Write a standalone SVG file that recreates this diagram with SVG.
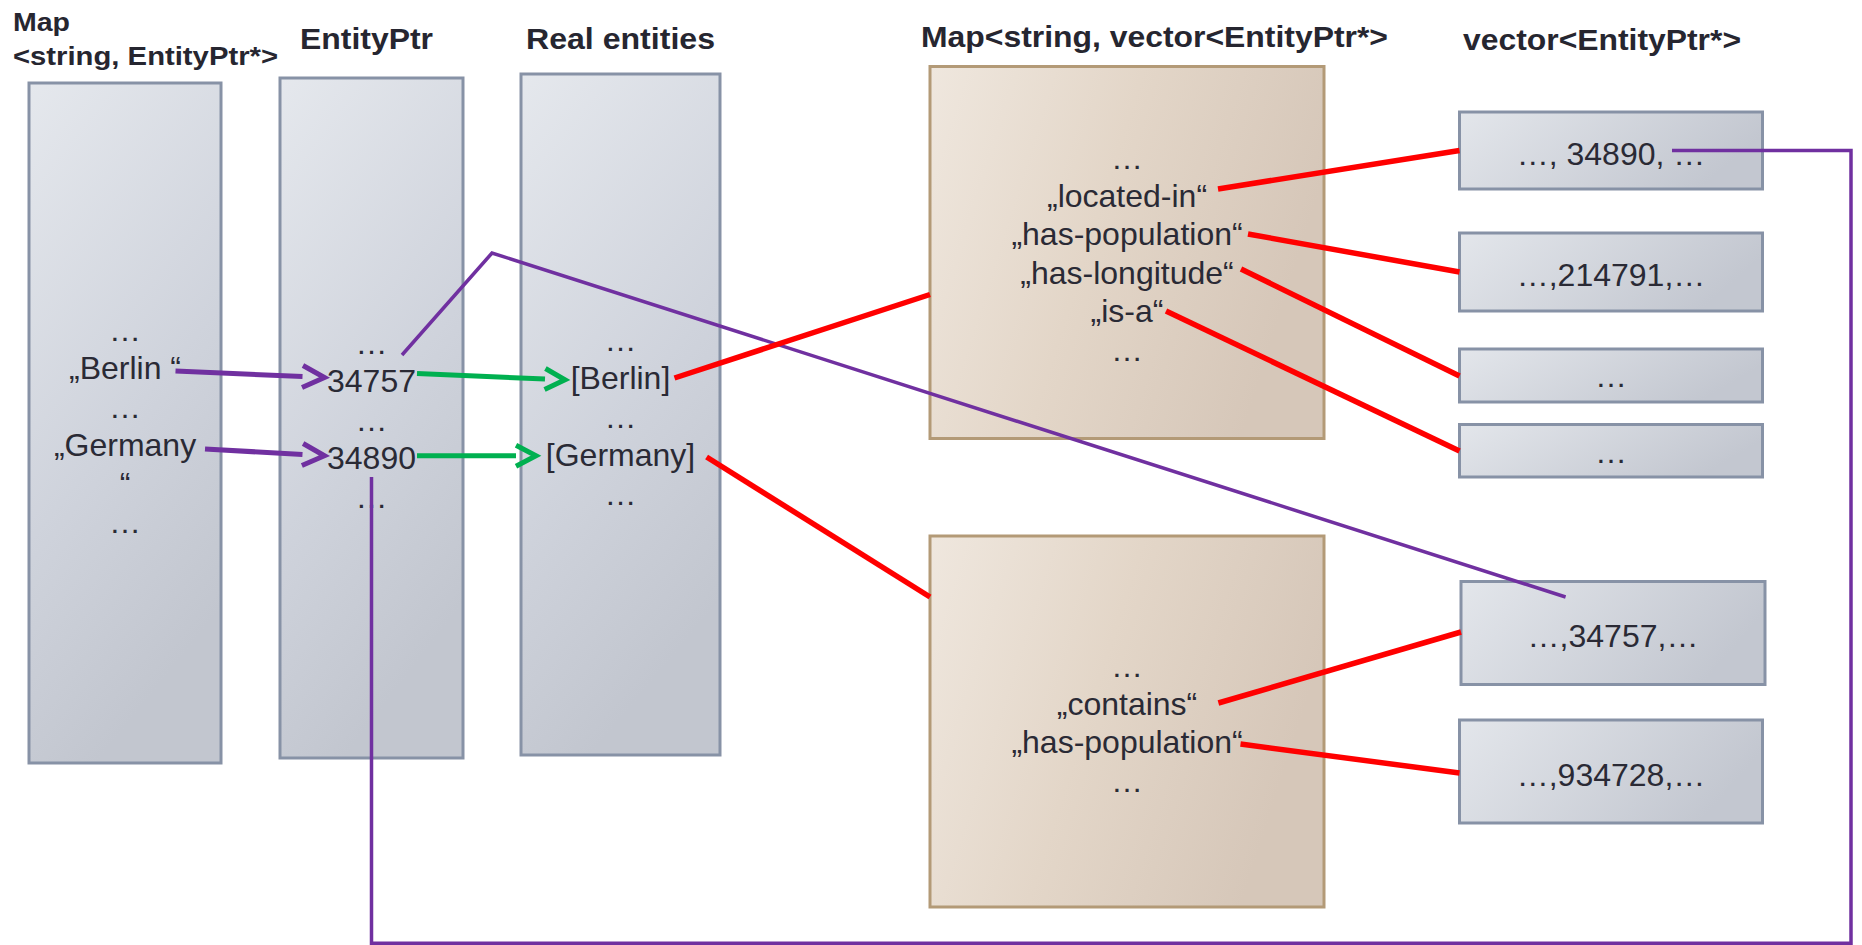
<svg xmlns="http://www.w3.org/2000/svg" width="1862" height="945" viewBox="0 0 1862 945">
<defs>
<linearGradient id="gCol" x1="0" y1="0" x2="0.35" y2="1">
<stop offset="0" stop-color="#e5e8ed"/>
<stop offset="0.6" stop-color="#cfd3dc"/>
<stop offset="1" stop-color="#c2c6cf"/>
</linearGradient>
<linearGradient id="gVec" x1="0" y1="0" x2="1" y2="0.3">
<stop offset="0" stop-color="#e3e6eb"/>
<stop offset="1" stop-color="#c3c7d0"/>
</linearGradient>
<linearGradient id="gTan" x1="0" y1="0" x2="1" y2="0.3">
<stop offset="0" stop-color="#efe7de"/>
<stop offset="0.5" stop-color="#e3d6c8"/>
<stop offset="1" stop-color="#d6c7b9"/>
</linearGradient>
<marker id="aPurple" markerUnits="userSpaceOnUse" viewBox="-4 -16 32 32" markerWidth="32" markerHeight="32" refX="0" refY="0" orient="auto">
<path d="M0,-11 L22,0 L0,11" fill="none" stroke="#7030a0" stroke-width="5"/>
</marker>
<marker id="aGreen" markerUnits="userSpaceOnUse" viewBox="-4 -16 32 32" markerWidth="32" markerHeight="32" refX="0" refY="0" orient="auto">
<path d="M0,-10.5 L20,0 L0,10.5" fill="none" stroke="#00b050" stroke-width="5"/>
</marker>
</defs>
<style>
.col{fill:url(#gCol);stroke:#8792a6;stroke-width:3}
.vec{fill:url(#gVec);stroke:#8792a6;stroke-width:3}
.tan{fill:url(#gTan);stroke:#b39a77;stroke-width:3}
.t{font-family:"Liberation Sans",Arial,sans-serif;font-size:32px;fill:#2a2a35;text-anchor:middle}
.h{font-family:"Liberation Sans",Arial,sans-serif;font-weight:bold;font-size:29px;fill:#262630}
.hs{font-size:26px}
.red{stroke:#ff0000;stroke-width:5.5;fill:none}
.pur{stroke:#7030a0;stroke-width:3.5;fill:none}
.purA{stroke:#7030a0;stroke-width:5;fill:none}
.grnA{stroke:#00b050;stroke-width:5;fill:none}
</style>
<rect width="1862" height="945" fill="#ffffff"/>

<g id="titles">
<text class="h hs" x="13" y="31" textLength="57" lengthAdjust="spacingAndGlyphs">Map</text>
<text class="h hs" x="13" y="65" textLength="265" lengthAdjust="spacingAndGlyphs">&lt;string, EntityPtr*&gt;</text>
<text class="h" x="300" y="49" textLength="133" lengthAdjust="spacingAndGlyphs">EntityPtr</text>
<text class="h" x="526" y="49" textLength="189" lengthAdjust="spacingAndGlyphs">Real entities</text>
<text class="h" x="921" y="47" textLength="467" lengthAdjust="spacingAndGlyphs">Map&lt;string, vector&lt;EntityPtr*&gt;</text>
<text class="h" x="1463" y="50" textLength="278" lengthAdjust="spacingAndGlyphs">vector&lt;EntityPtr*&gt;</text>
</g>

<g id="map-string-entityptr">
<rect class="col" x="29" y="83" width="192" height="680"/>
<text class="t" x="125" y="341">…</text>
<text class="t" x="125" y="379.4">„Berlin “</text>
<text class="t" x="125" y="417.8">…</text>
<text class="t" x="125" y="456.2">„Germany</text>
<text class="t" x="125" y="494.6">“</text>
<text class="t" x="125" y="533">…</text>
</g>

<g id="entityptr">
<rect class="col" x="280" y="78" width="183" height="680"/>
<text class="t" x="371.5" y="354">…</text>
<text class="t" x="371.5" y="392.4">34757</text>
<text class="t" x="371.5" y="430.8">…</text>
<text class="t" x="371.5" y="469.2">34890</text>
<text class="t" x="371.5" y="507.6">…</text>
</g>

<g id="real-entities">
<rect class="col" x="521" y="74" width="199" height="681"/>
<text class="t" x="620.5" y="351">…</text>
<text class="t" x="620.5" y="389.4">[Berlin]</text>
<text class="t" x="620.5" y="427.8">…</text>
<text class="t" x="620.5" y="466.2">[Germany]</text>
<text class="t" x="620.5" y="504.6">…</text>
</g>

<g id="map-berlin">
<rect class="tan" x="930" y="66.5" width="394" height="372"/>
<text class="t" x="1127" y="168.5">…</text>
<text class="t" x="1127" y="206.9">„located-in“</text>
<text class="t" x="1127" y="245.3">„has-population“</text>
<text class="t" x="1127" y="283.7">„has-longitude“</text>
<text class="t" x="1127" y="322.1">„is-a“</text>
<text class="t" x="1127" y="360.5">…</text>
</g>

<g id="map-germany">
<rect class="tan" x="930" y="536" width="394" height="371"/>
<text class="t" x="1127" y="676.5">…</text>
<text class="t" x="1127" y="714.9">„contains“</text>
<text class="t" x="1127" y="753.3">„has-population“</text>
<text class="t" x="1127" y="791.7">…</text>
</g>

<g id="vec-located-in">
<rect class="vec" x="1459.5" y="112" width="303" height="77"/>
<text class="t" x="1611" y="164.5">…, 34890, …</text>
</g>
<g id="vec-population-berlin">
<rect class="vec" x="1459.5" y="233" width="303" height="78"/>
<text class="t" x="1611" y="285.5">…,214791,…</text>
</g>
<g id="vec-longitude">
<rect class="vec" x="1459.5" y="349" width="303" height="53"/>
<text class="t" x="1611" y="387">…</text>
</g>
<g id="vec-is-a">
<rect class="vec" x="1459.5" y="424.5" width="303" height="52.5"/>
<text class="t" x="1611" y="463">…</text>
</g>
<g id="vec-contains">
<rect class="vec" x="1461" y="581.5" width="304" height="103"/>
<text class="t" x="1613" y="646.5">…,34757,…</text>
</g>
<g id="vec-population-germany">
<rect class="vec" x="1459.5" y="720" width="303" height="103"/>
<text class="t" x="1611" y="785.5">…,934728,…</text>
</g>

<g id="connectors">
<line class="purA" x1="175.5" y1="371" x2="302.5" y2="376.5" marker-end="url(#aPurple)"/>
<line class="purA" x1="205" y1="449" x2="302.5" y2="454.5" marker-end="url(#aPurple)"/>
<line class="grnA" x1="417" y1="373.6" x2="545" y2="379" marker-end="url(#aGreen)"/>
<line class="grnA" x1="417" y1="455.8" x2="516" y2="455.8" marker-end="url(#aGreen)"/>
<polyline class="pur" points="402,355 492,253 1565.6,597"/>
<polyline class="pur" points="371.5,477 371.5,943.2 1851,943.2 1851,150.5 1672,150.5"/>
<line class="red" x1="674.5" y1="378" x2="930" y2="294.5"/>
<line class="red" x1="706.6" y1="457" x2="930" y2="597"/>
<line class="red" x1="1218" y1="189" x2="1459.5" y2="150.5"/>
<line class="red" x1="1248" y1="234" x2="1459.5" y2="272"/>
<line class="red" x1="1241" y1="269" x2="1459.5" y2="376"/>
<line class="red" x1="1166" y1="311" x2="1459.5" y2="451"/>
<line class="red" x1="1218.4" y1="703" x2="1461" y2="632"/>
<line class="red" x1="1240.5" y1="744" x2="1459.5" y2="773"/>
</g>
</svg>
